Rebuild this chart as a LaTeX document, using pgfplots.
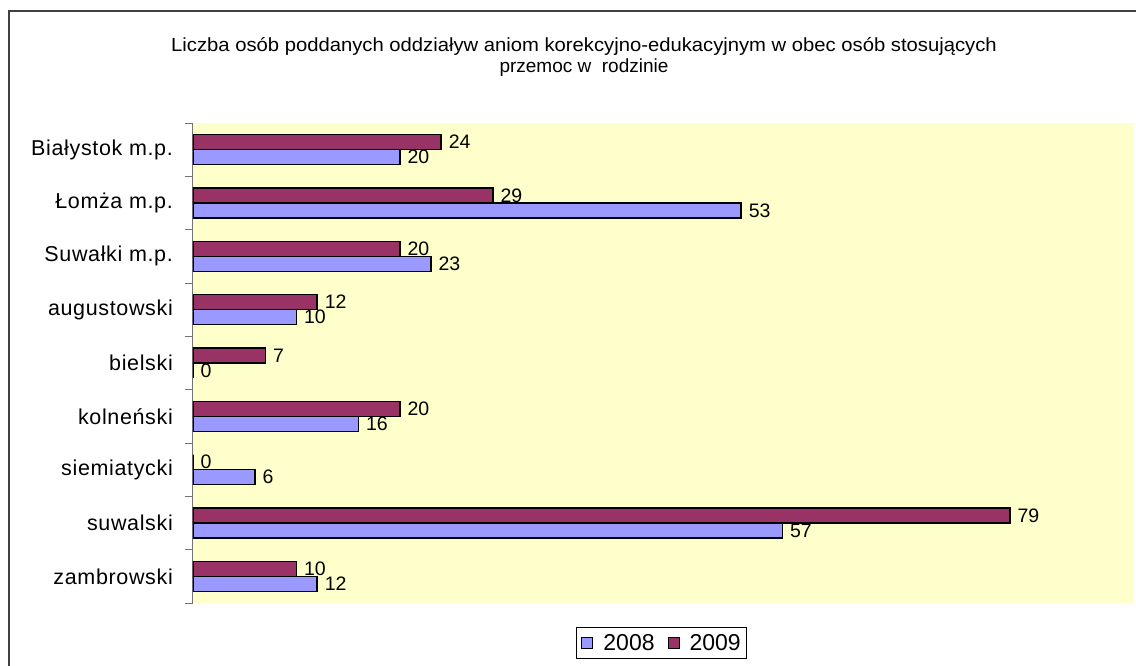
\documentclass[border=0pt]{standalone}
\usepackage{fontspec}
\setmainfont{Liberation Sans}
\newfontfamily\labelfont[LetterSpace=3]{Liberation Sans}
\usepackage{pgfplots}
\pgfplotsset{compat=1.18}
\usepackage{graphicx}
\definecolor{bgyellow}{HTML}{FFFFCC}
\definecolor{c2008}{HTML}{9999FF}
\definecolor{c2009}{HTML}{993366}
\begin{document}
\begin{tikzpicture}[x=1pt,y=1pt]
\useasboundingbox (0,0) rectangle (1136,665);
\draw[line width=1.5pt, black!75] (9,-20) -- (9,654) -- (1160,654) -- (1160,-20);
\node[anchor=base, inner sep=0pt, font=\fontsize{19}{21}\selectfont] at (584,613) {\scalebox{1.065}[1]{Liczba osób poddanych oddziaływ aniom korekcyjno-edukacyjnym w obec osób stosujących}};
\node[anchor=base, inner sep=0pt, font=\fontsize{19}{21}\selectfont] at (584,592.5) {przemoc w\ \ rodzinie};
\begin{axis}[
  at={(193pt,88.667pt)}, anchor=origin,
  width=941pt, height=480pt, scale only axis,
  xbar, xmin=0, xmax=91, ymin=-0.5, ymax=8.5,
  axis x line=none, axis y line*=left,
  y axis line style={black!55, line width=1pt},
  ytick={0,...,8},
  yticklabels={zambrowski, suwalski, siemiatycki, kolneński, bielski, augustowski, Suwałki m.p., Łomża m.p., Białystok m.p.},
  major tick length=0pt,
  minor ytick={-0.5,0.5,...,8.5},
  minor tick length=8pt,
  tick align=outside,
  minor tick style={black!55, line width=1pt},
  yticklabel style={font=\labelfont\fontsize{21.5}{24}\selectfont, inner sep=0pt, xshift=-20pt},
  axis background/.style={fill=bgyellow},
  bar width=0.281,
  nodes near coords,
  nodes near coords style={font=\fontsize{19.5}{21}\selectfont, anchor=west, inner sep=0pt, xshift=7pt, text=black},
  /pgf/number format/assume math mode=true,
  legend style={at={(0.498,-0.0833)}, anchor=center, legend columns=2, draw=black, line width=1pt,
    font=\fontsize{23}{25}\selectfont, inner xsep=5pt, inner ysep=6pt,
    nodes={inner sep=1pt},
    /tikz/every odd column/.append style={column sep=9pt},
    /tikz/every even column/.append style={column sep=12pt}},
  legend image code/.code={\draw[#1, line width=1pt] (0pt,-5.5pt) rectangle (11pt,5.5pt);},
]
\addplot[fill=c2008, draw=black, line width=1.4pt, bar shift=-0.1405] coordinates {(12,0) (57,1) (6,2) (16,3) (0,4) (10,5) (23,6) (53,7) (20,8)};
\addplot[fill=c2009, draw=black, line width=1.4pt, bar shift=0.1405] coordinates {(10,0) (79,1) (0,2) (20,3) (7,4) (12,5) (20,6) (29,7) (24,8)};
\legend{2008, 2009}
\end{axis}
\end{tikzpicture}
\end{document}
